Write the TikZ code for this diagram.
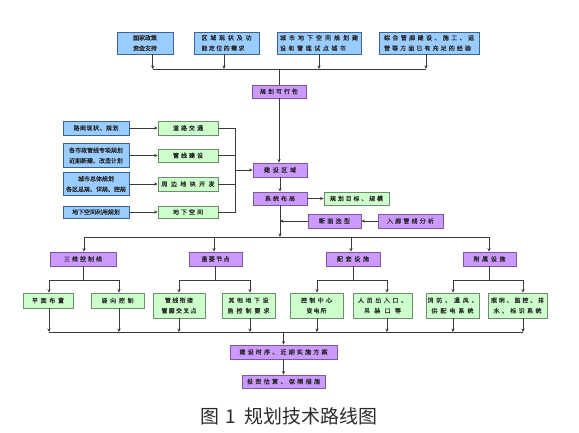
\documentclass[tikz,border=0pt]{standalone}
\usepackage{fontspec}
\setmainfont{Noto Sans CJK SC}
\newfontfamily\boxfont[FakeBold=0.6]{Noto Sans CJK SC}
\usetikzlibrary{arrows.meta}
\definecolor{bfill}{HTML}{99CCFF}
\definecolor{bdraw}{HTML}{3F6296}
\definecolor{pfill}{HTML}{CC99FF}
\definecolor{pdraw}{HTML}{7A5A9E}
\definecolor{gfill}{HTML}{CCFFCC}
\definecolor{gdraw}{HTML}{6E8C6E}
\definecolor{lncol}{HTML}{3A3A3A}
\definecolor{txcol}{HTML}{2A2A2A}
\def\sprEnd{sprEndMarker}
\def\sprA#1#2{#1\ifx#2\sprEnd\else\hfil\expandafter\sprA\expandafter#2\fi}
\newcommand\spr[1]{\sprA#1\sprEnd}
\newcommand\J[2]{\makebox[#1bp][s]{\spr{#2}}}
\tikzset{
  boxbase/.style={rectangle, inner sep=0pt, line width=0.8bp, text=txcol,
    font=\boxfont\fontsize{6}{10.5}\selectfont, align=center},
  bluebox/.style={boxbase, fill=bfill, draw=bdraw},
  purplebox/.style={boxbase, fill=pfill, draw=pdraw},
  greenbox/.style={boxbase, fill=gfill, draw=gdraw},
  ln/.style={draw=lncol, line width=0.8bp},
  arr/.style={ln, -{Stealth[length=3.5bp,width=3.2bp]}},
}
\begin{document}
\begin{tikzpicture}[x=1bp,y=-1bp]
\useasboundingbox (0,0) rectangle (579,433);
% top row
\node[bluebox, minimum width=56bp, minimum height=22bp] (t1) at (145,43) {国家政策\\资金支持};
\node[bluebox, minimum width=65bp, minimum height=22bp, align=left] (t2) at (226.5,43) {\J{50}{区域现状及功}\\\J{43}{能定位的需求}};
\node[bluebox, minimum width=84bp, minimum height=22bp, align=left] (t3) at (319,43) {\J{78}{城市地下空间规划建}\\\J{66}{设和管理试点城市}};
\node[bluebox, minimum width=100bp, minimum height=22bp, align=left] (t4) at (429,43) {\J{90}{综合管廊建设、施工、运}\\\J{87}{营等方面已有充足的经验}};
\coordinate (a1) at (152.7,69);
\coordinate (a2) at (224,69);
\coordinate (a3) at (319,69);
\coordinate (a4) at (426,69);
\draw[arr] (t1.south -| a1) -- (a1);
\draw[arr] (t2.south -| a2) -- (a2);
\draw[arr] (t3.south -| a3) -- (a3);
\draw[arr] (t4.south -| a4) -- (a4);
\draw[ln] (a1) -- (a4);
\node[purplebox, minimum width=54bp, minimum height=13bp] (p1) at (279,91.5) {\J{38}{规划可行性}};
\draw[ln] (p1.north |- a1) -- (p1.north);
% left column
\node[bluebox, minimum width=66bp, minimum height=14bp] (l1) at (96,128) {\J{45}{路网现状、规划}};
\node[bluebox, minimum width=66bp, minimum height=24bp] (l2) at (96,155.5) {各市政管线专项规划\\近期新建、改造计划};
\node[bluebox, minimum width=66bp, minimum height=23bp] (l3) at (96,184) {城市总体规划\\各区总规、详规、控规};
\node[bluebox, minimum width=66bp, minimum height=12bp] (l4) at (96,212) {地下空间利用规划};
\node[greenbox, minimum width=60bp, minimum height=14bp] (g1) at (188,128) {\J{30}{道路交通}};
\node[greenbox, minimum width=60bp, minimum height=13bp] (g2) at (188,155.5) {\J{30}{管线建设}};
\node[greenbox, minimum width=60bp, minimum height=14bp] (g3) at (188,184) {\J{53}{周边地块开发}};
\node[greenbox, minimum width=60bp, minimum height=12bp] (g4) at (188,212) {\J{30}{地下空间}};
\draw[arr] (l1.east) -- (g1.west);
\draw[arr] (l2.east) -- (g2.west);
\draw[arr] (l3.east) -- (g3.west);
\draw[arr] (l4.east) -- (g4.west);
\coordinate (cx) at (235,170);
\draw[ln] (g1.east) -- (g1.east -| cx) -- (g4.east -| cx) -- (g4.east);
\draw[ln] (g2.east) -- (g2.east -| cx);
\draw[ln] (g3.east) -- (g3.east -| cx);
% centre column
\node[purplebox, minimum width=54bp, minimum height=14bp] (j1) at (280,170) {\J{32}{建设区域}};
\node[purplebox, minimum width=54bp, minimum height=13bp] (j2) at (280,198.5) {\J{30}{系统布局}};
\node[greenbox, minimum width=65bp, minimum height=13bp] (g5) at (356.5,198.5) {\J{53}{规划目标、规模}};
\node[purplebox, minimum width=53bp, minimum height=14bp] (j3) at (334.5,221) {\J{31}{断面选型}};
\node[purplebox, minimum width=65bp, minimum height=14bp] (j4) at (410.5,221) {\J{47}{入廊管线分析}};
\draw[arr] (cx) -- (j1.west);
\draw[arr] (p1.south) -- (p1.south |- j1.north);
\draw[arr] (j1.south) -- (j2.north);
\draw[arr] (j2.east) -- (g5.west);
\draw[arr] (j4.west) -- (j3.east);
\draw[arr] (j3.west) -- (j3.west -| j2.south);
\coordinate (c1) at (84,237);
\coordinate (c2) at (214,237);
\coordinate (c3) at (351,237);
\coordinate (c4) at (489,237);
\draw[arr] (j2.south) -- (j2.south |- c1);
\draw[ln] (c1) -- (c4);
% second row
\node[purplebox, minimum width=66bp, minimum height=14bp] (r1) at (83,259) {\J{38}{三维控制线}};
\node[purplebox, minimum width=53bp, minimum height=14bp] (r2) at (215.5,259) {\J{28}{重要节点}};
\node[purplebox, minimum width=54bp, minimum height=14bp] (r3) at (353,259) {\J{32}{配套设施}};
\node[purplebox, minimum width=53bp, minimum height=14bp] (r4) at (489.5,259) {\J{32}{附属设施}};
\draw[arr] (c1) -- (c1 |- r1.north);
\draw[arr] (c2) -- (c2 |- r2.north);
\draw[arr] (c3) -- (c3 |- r3.north);
\draw[arr] (c4) -- (c4 |- r4.north);
% third row
\node[greenbox, minimum width=50bp, minimum height=15bp] (b1) at (48,300.5) {\J{32}{平面布置}};
\node[greenbox, minimum width=53bp, minimum height=15bp] (b2) at (117.5,300.5) {\J{32}{竖向控制}};
\node[greenbox, minimum width=52bp, minimum height=25bp] (b3) at (179,305.5) {\J{28}{管线衔接}\\\J{35}{管廊交叉点}};
\node[greenbox, minimum width=53bp, minimum height=25bp] (b4) at (248.5,305.5) {\J{40}{其他地下设}\\\J{42}{施控制要求}};
\node[greenbox, minimum width=53bp, minimum height=25bp] (b5) at (316.5,305.5) {\J{31}{控制中心}\\\J{20}{变电所}};
\node[greenbox, minimum width=59bp, minimum height=25bp] (b6) at (382.5,305.5) {\J{49}{人员出入口、}\\\J{37}{吊装口等}};
\node[greenbox, minimum width=53bp, minimum height=25bp] (b7) at (452.5,305.5) {\J{50}{消防、通风、}\\\J{42}{供配电系统}};
\node[greenbox, minimum width=59bp, minimum height=25bp] (b8) at (517.5,305.5) {\J{53}{照明、监控、排}\\\J{48}{水、标识系统}};
\coordinate (k1) at (49,280);
\coordinate (k2) at (119,280);
\coordinate (k3) at (179,280);
\coordinate (k4) at (250,280);
\coordinate (k5) at (317,280);
\coordinate (k6) at (387,280);
\coordinate (k7) at (453,280);
\coordinate (k8) at (523,280);
\draw[ln] (r1.south) -- (r1.south |- k1);
\draw[ln] (r2.south) -- (r2.south |- k3);
\draw[ln] (r3.south) -- (r3.south |- k5);
\draw[ln] (r4.south) -- (r4.south |- k7);
\draw[ln] (k1) -- (k2);
\draw[ln] (k3) -- (k4);
\draw[ln] (k5) -- (k6);
\draw[ln] (k7) -- (k8);
\draw[arr] (k1) -- (k1 |- b1.north);
\draw[arr] (k2) -- (k2 |- b2.north);
\draw[arr] (k3) -- (k3 |- b3.north);
\draw[arr] (k4) -- (k4 |- b4.north);
\draw[arr] (k5) -- (k5 |- b5.north);
\draw[arr] (k6) -- (k6 |- b6.north);
\draw[arr] (k7) -- (k7 |- b7.north);
\draw[arr] (k8) -- (k8 |- b8.north);
\coordinate (m) at (283.5,332);
\draw[arr] (k1 |- b1.south) -- (k1 |- m);
\draw[arr] (k2 |- b2.south) -- (k2 |- m);
\draw[arr] (k3 |- b3.south) -- (k3 |- m);
\draw[arr] (k4 |- b4.south) -- (k4 |- m);
\draw[arr] (k5 |- b5.south) -- (k5 |- m);
\draw[arr] (k6 |- b6.south) -- (k6 |- m);
\draw[arr] (k7 |- b7.south) -- (k7 |- m);
\draw[arr] (k8 |- b8.south) -- (k8 |- m);
\draw[ln] (k1 |- m) -- (k8 |- m);
% bottom
\node[purplebox, minimum width=107bp, minimum height=14bp] (e1) at (283.5,352) {\J{88}{建设时序、近期实施方案}};
\node[purplebox, minimum width=83bp, minimum height=13bp] (e2) at (283.5,381.5) {\J{73}{投资估算、保障措施}};
\draw[arr] (m) -- (e1.north);
\draw[arr] (e1.south) -- (e2.north);
\node[font=\fontsize{19}{22}\selectfont, text=txcol, inner sep=0pt] (cap) at (288.5,416) {图\hspace{7bp}1\hspace{8bp}规划技术路线图};
\end{tikzpicture}
\end{document}
